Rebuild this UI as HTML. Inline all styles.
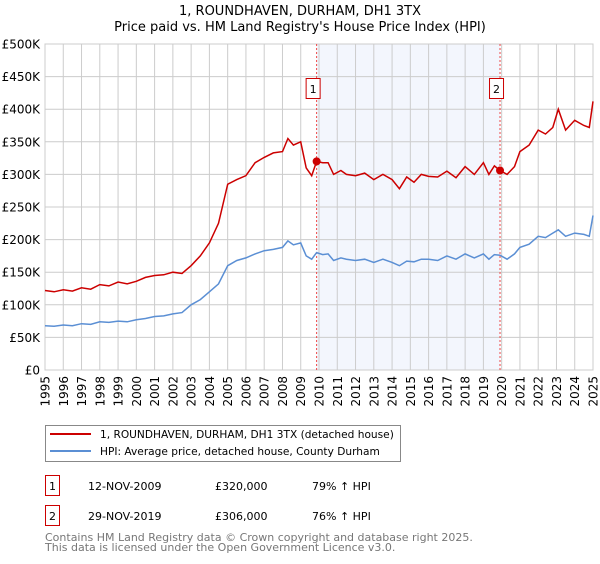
<!DOCTYPE html>
<html><head><meta charset="utf-8"><style>
body{margin:0;background:#fff;font-family:"DejaVu Sans","Liberation Sans",sans-serif;}
svg text{font-family:"DejaVu Sans","Liberation Sans",sans-serif;}
</style></head><body>
<svg id="c" width="600" height="560" xmlns="http://www.w3.org/2000/svg">
<text x="300" y="15" text-anchor="middle" font-size="13" fill="#000">1, ROUNDHAVEN, DURHAM, DH1 3TX</text>
<text x="300" y="31" text-anchor="middle" font-size="13" fill="#000">Price paid vs. HM Land Registry's House Price Index (HPI)</text>
<g id="plot"></g>
<g>
<rect x="45.5" y="425.5" width="355" height="36" fill="#fff" stroke="#888"/>
<line x1="50" y1="434" x2="91" y2="434" stroke="#cc0000" stroke-width="2"/>
<text x="100" y="438" font-size="10.6">1, ROUNDHAVEN, DURHAM, DH1 3TX (detached house)</text>
<line x1="50" y1="451" x2="91" y2="451" stroke="#5b8fd4" stroke-width="2"/>
<text x="100" y="455" font-size="10.6">HPI: Average price, detached house, County Durham</text>
</g>
<g>
<rect x="45.5" y="475.5" width="14" height="20" fill="#fff" stroke="#cc0000"/>
<text x="52.5" y="490" text-anchor="middle" font-size="11">1</text>
<text x="88" y="490" font-size="11">12-NOV-2009</text>
<text x="215" y="490" font-size="11">£320,000</text>
<text x="312" y="490" font-size="11">79% ↑ HPI</text>
<rect x="45.5" y="505.5" width="14" height="20" fill="#fff" stroke="#cc0000"/>
<text x="52.5" y="520" text-anchor="middle" font-size="11">2</text>
<text x="88" y="520" font-size="11">29-NOV-2019</text>
<text x="215" y="520" font-size="11">£306,000</text>
<text x="312" y="520" font-size="11">76% ↑ HPI</text>
</g>
<text x="45" y="541" font-size="11" fill="#777">Contains HM Land Registry data © Crown copyright and database right 2025.</text>
<text x="45" y="551" font-size="11" fill="#777">This data is licensed under the Open Government Licence v3.0.</text>
</svg>
<script>
const hpiYears=[1995,1995.5,1996,1996.5,1997,1997.5,1998,1998.5,1999,1999.5,2000,2000.5,2001,2001.5,2002,2002.5,2003,2003.5,2004,2004.5,2005,2005.5,2006,2006.5,2007,2007.5,2008,2008.3,2008.6,2009,2009.3,2009.6,2009.87,2010.2,2010.5,2010.8,2011.2,2011.5,2012,2012.5,2013,2013.5,2014,2014.4,2014.8,2015.2,2015.6,2016,2016.5,2017,2017.5,2018,2018.5,2019,2019.3,2019.6,2019.91,2020.3,2020.7,2021,2021.5,2022,2022.4,2022.8,2023.1,2023.5,2024,2024.5,2024.8,2025];
const hpiValues=[68,67,69,68,71,70,74,73,75,74,77,79,82,83,86,88,100,108,120,132,160,168,172,178,183,185,188,198,192,195,175,170,180,177,178,168,172,170,168,170,165,170,165,160,167,166,170,170,168,175,170,178,172,178,170,177,176,170,178,188,193,205,203,210,215,205,210,208,205,237];
const redValues=[122,120,123,121,126,124,131,129,135,132,136,142,145,146,150,148,160,175,195,225,285,292,298,318,326,333,335,355,345,350,310,298,320,318,318,300,306,300,298,302,292,300,292,278,296,288,300,297,296,305,295,312,300,318,300,313,306,300,312,335,345,368,362,372,400,368,383,375,372,412];
const sales=[{year:2009.87,price:320},{year:2019.91,price:306}];
const yTicks=[0,50,100,150,200,250,300,350,400,450,500];
const yTickLabels=["£0","£50K","£100K","£150K","£200K","£250K","£300K","£350K","£400K","£450K","£500K"];
const xTicks=[1995,1996,1997,1998,1999,2000,2001,2002,2003,2004,2005,2006,2007,2008,2009,2010,2011,2012,2013,2014,2015,2016,2017,2018,2019,2020,2021,2022,2023,2024,2025];

const L=45,R=593,T=44,B=370;
const xs=y=>L+(y-1995)/(2025-1995)*(R-L);
const ys=v=>B-v/500*(B-T);
const NS="http://www.w3.org/2000/svg";
const g=document.getElementById('plot');
function mk(tag,attrs){const e=document.createElementNS(NS,tag);for(const k in attrs)e.setAttribute(k,attrs[k]);g.appendChild(e);return e;}

let sh=mk('rect',{x:xs(sales[0].year),y:T,width:xs(sales[1].year)-xs(sales[0].year),height:B-T,fill:'#f3f6fd'});


xTicks.forEach(t=>{
 let l=mk('line',{x1:xs(t),x2:xs(t),y1:T,y2:B,stroke:'#cccccc','stroke-width':1});
 
 
 let tx=mk('text',{x:0,y:0,'font-size':12,'text-anchor':'end',transform:`translate(${xs(t)+4.5},376) rotate(-90)`});
 tx.textContent=t;
 
 
});
yTicks.forEach((t,i)=>{
 let l=mk('line',{x1:L,x2:R,y1:ys(t),y2:ys(t),stroke:'#cccccc','stroke-width':1});
 
 
 let tx=mk('text',{x:40,y:ys(t)+4.5,'font-size':12,'text-anchor':'end'});
 tx.textContent=yTickLabels[i];
 
 
});
let fr=mk('rect',{x:L,y:T,width:R-L,height:B-T,fill:'none',stroke:'#cccccc'});


sales.forEach((s,i)=>{
 let l=mk('line',{x1:xs(s.year),x2:xs(s.year),y1:T,y2:B,stroke:'#ee4444','stroke-width':1,'stroke-dasharray':'2,2'});
 
 
});
function path(vals){return hpiYears.map((y,i)=>(i?'L':'M')+xs(y).toFixed(1)+','+ys(vals[i]).toFixed(1)).join(' ');}
let hp=mk('path',{d:path(hpiValues),fill:'none',stroke:'#5b8fd4','stroke-width':1.5});


let rp=mk('path',{d:path(redValues),fill:'none',stroke:'#cc0000','stroke-width':1.5});


sales.forEach((s,i)=>{
 let c=mk('circle',{cx:xs(s.year),cy:ys(s.price),r:4,fill:'#cc0000'});
 
 
 let b=mk('rect',{x:xs(s.year)-10.5,y:78.5,width:14,height:20,fill:'#fff',stroke:'#cc0000'});
 
 
 let t=mk('text',{x:xs(s.year)-3.5,y:93,'font-size':11,'text-anchor':'middle'});
 t.textContent=String(i+1);
 
 
});
</script>
</body></html>
